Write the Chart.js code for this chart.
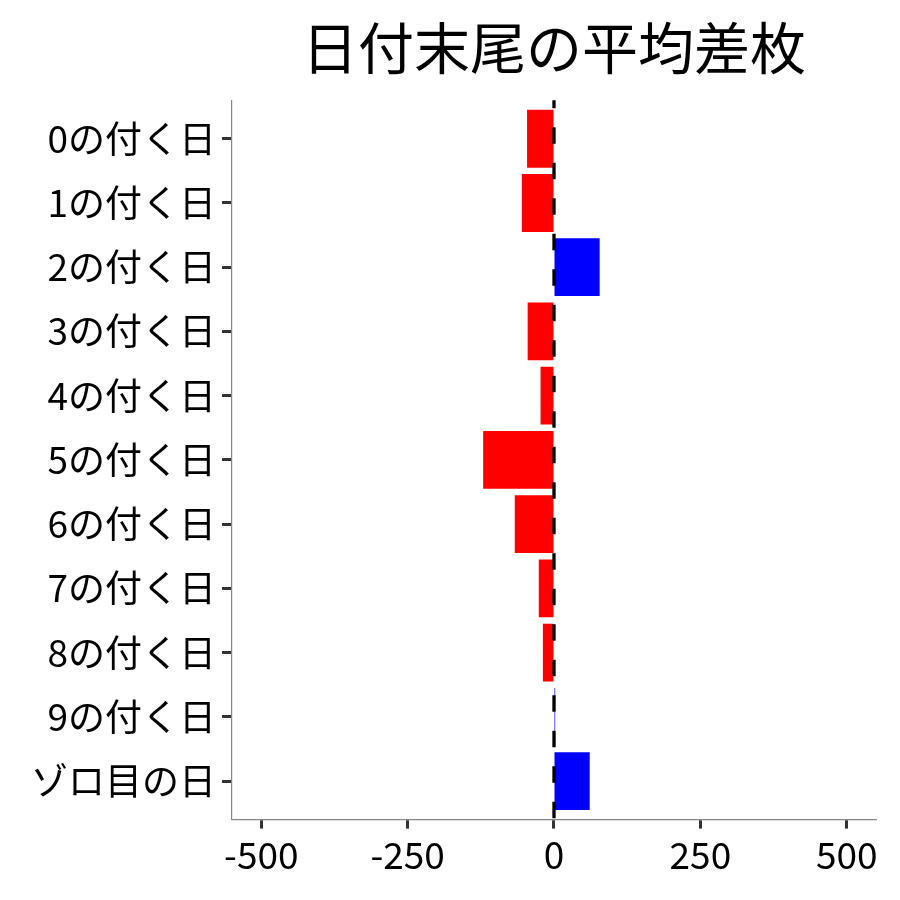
<!DOCTYPE html>
<html>
<head>
<meta charset="utf-8">
<script src="https://cdn.jsdelivr.net/npm/chart.js@4"></script>
<style>
  html, body { margin: 0; padding: 0; background: #fff; }
  #wrap { width: 900px; height: 900px; }
</style>
</head>
<body>
<div id="wrap"><canvas id="chart" width="900" height="900"></canvas></div>
<script>
// data
const categories = ["0の付く日", "1の付く日", "2の付く日", "3の付く日", "4の付く日",
                    "5の付く日", "6の付く日", "7の付く日", "8の付く日", "9の付く日", "ゾロ目の日"];
const avgDiff = [-46, -55, 78, -45, -23, -121, -67, -26, -19, 2, 61];
const xTicks = [-500, -250, 0, 250, 500];
const chartTitle = "日付末尾の平均差枚";

const FONT = "'Noto Sans CJK JP', 'Noto Sans', sans-serif";

// dashed reference line at zero
const zeroLine = {
    id: "zeroLine",
    afterDatasetsDraw(chart) {
        const ctx = chart.ctx;
        const area = chart.chartArea;
        const x = chart.scales.x.getPixelForValue(0);
        ctx.save();
        ctx.strokeStyle = "#000";
        ctx.lineWidth = 3.3;
        ctx.setLineDash([16.5, 19]);
        ctx.lineDashOffset = 8.5;
        ctx.beginPath();
        ctx.moveTo(x, area.top);
        ctx.lineTo(x, area.bottom);
        ctx.stroke();
        ctx.restore();
    }
};

new Chart(document.getElementById("chart").getContext("2d"), {
    type: "bar",
    data: {
        datasets: [{
            data: avgDiff.map((v, i) => ({ x: v, y: i })),
            backgroundColor: avgDiff.map(v => v >= 0 ? "#0000FF" : "#FF0000"),
            borderWidth: 0,
            categoryPercentage: 0.9,
            barPercentage: 1.0
        }]
    },
    options: {
        indexAxis: "y",
        responsive: false,
        animation: false,
        layout: { padding: { left: 25, right: 24, top: 14, bottom: 19 } },
        plugins: {
            legend: { display: false },
            tooltip: { enabled: false },
            title: {
                display: true,
                text: chartTitle,
                fullSize: false,
                color: "#000",
                font: { family: FONT, size: 56, weight: "normal" },
                padding: { top: 0, bottom: 19 }
            }
        },
        scales: {
            x: {
                type: "linear",
                min: -550,
                max: 550,
                afterBuildTicks: s => { s.ticks = xTicks.map(v => ({ value: v })); },
                grid: { drawOnChartArea: false, drawTicks: true, offset: false, tickLength: 9, tickColor: "#333", tickWidth: 3 },
                border: { display: true, color: "#888", width: 1.2 },
                ticks: { color: "#000", font: { family: FONT, size: 37 }, padding: 4, maxRotation: 0 }
            },
            y: {
                type: "linear",
                min: -0.6,
                max: 10.6,
                offset: false,
                reverse: true,
                afterBuildTicks: s => { s.ticks = categories.map((c, i) => ({ value: i })); },
                grid: { drawOnChartArea: false, drawTicks: true, offset: false, tickLength: 10, tickColor: "#333", tickWidth: 3 },
                border: { display: true, color: "#888", width: 1.2 },
                ticks: {
                    color: "#000",
                    font: { family: FONT, size: 37 },
                    padding: 6,
                    callback: v => categories[v]
                }
            }
        }
    },
    plugins: [zeroLine]
});
</script>
</body>
</html>
